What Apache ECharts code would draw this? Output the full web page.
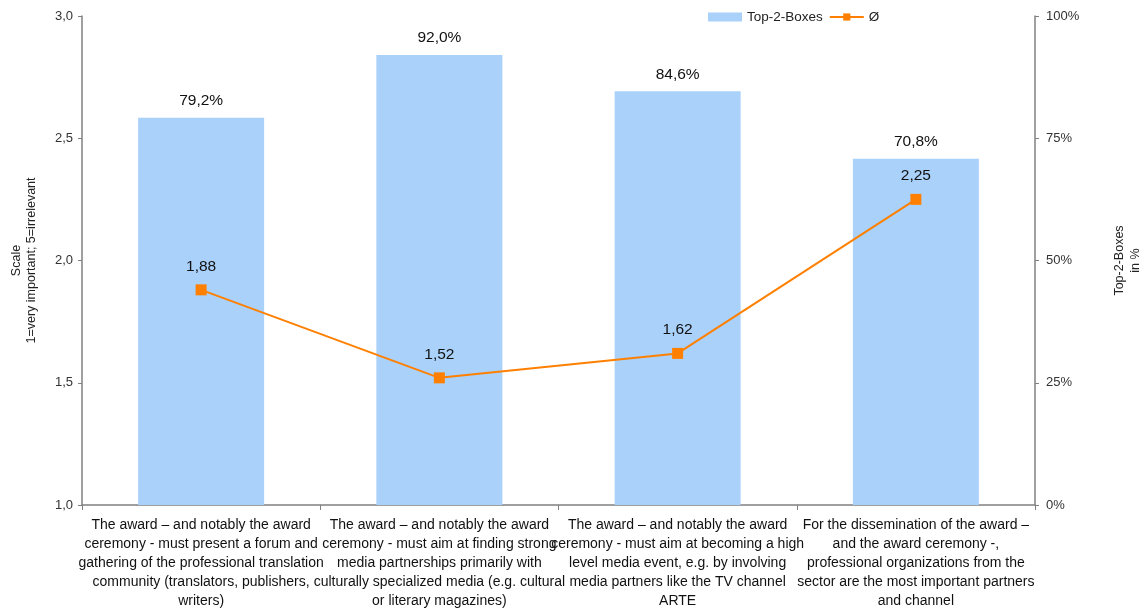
<!DOCTYPE html>
<html>
<head>
<meta charset="utf-8">
<script src="https://cdn.jsdelivr.net/npm/echarts@6/dist/echarts.min.js"></script>
<style>
  html, body { margin: 0; padding: 0; background: #fff; }
  #chart { width: 1147px; height: 610px; }
</style>
</head>
<body>
<div id="chart"></div>
<script>
// Statements about the award and its ceremony
const categories = [
  'The award \u2013 and notably the award\nceremony - must present a forum and\ngathering of the professional translation\ncommunity (translators, publishers,\nwriters)',
  'The award \u2013 and notably the award\nceremony - must aim at finding strong\nmedia partnerships primarily with\nculturally specialized media (e.g. cultural\nor literary magazines)',
  'The award \u2013 and notably the award\nceremony - must aim at becoming a high\nlevel media event, e.g. by involving\nmedia partners like the TV channel\nARTE',
  'For the dissemination of the award \u2013\nand the award ceremony -,\nprofessional organizations from the\nsector are the most important partners\nand channel'
];
// Share of the two top answer boxes, in percent
const topTwoBoxes = [79.2, 92.0, 84.6, 70.8];
// Mean rating on the 1..5 scale
const meanScore = [1.88, 1.52, 1.62, 2.25];

const FONT = 'Liberation Sans, Arial, sans-serif';
const comma = (v, d) => v.toFixed(d).replace('.', ',');

const chart = echarts.init(document.getElementById('chart'));
chart.setOption({
  animation: false,
  textStyle: { fontFamily: FONT },
  legend: {
    top: 5,
    left: 703,
    itemGap: 6,
    itemWidth: 34,
    itemHeight: 9,
    textStyle: { fontFamily: FONT, fontSize: 13.5, color: '#222' },
    data: [
      { name: 'Top-2-Boxes', icon: 'rect' },
      { name: '\u00d8' }
    ]
  },
  grid: {
    left: 82, right: 112, top: 16, bottom: 105,
    containLabel: false,
    outerBoundsMode: 'none'
  },
  xAxis: {
    type: 'category',
    data: categories,
    boundaryGap: true,
    axisLine: { lineStyle: { color: '#808080', width: 1.5 } },
    axisTick: { show: true, length: 5, lineStyle: { color: '#808080' } },
    axisLabel: {
      interval: 0,
      margin: 11,
      fontFamily: FONT,
      fontSize: 14,
      lineHeight: 19,
      color: '#111'
    }
  },
  yAxis: [
    {
      type: 'value',
      min: 1, max: 3, interval: 0.5,
      position: 'left',
      name: 'Scale\n1=very important; 5=irrelevant',
      nameLocation: 'middle',
      nameRotate: 90,
      nameGap: 43,
      nameTextStyle: { fontFamily: FONT, fontSize: 12.5, color: '#222', lineHeight: 15 },
      axisLine: { show: true, lineStyle: { color: '#808080', width: 1.5 } },
      axisTick: { show: true, length: 4, lineStyle: { color: '#808080' } },
      splitLine: { show: false },
      axisLabel: {
        margin: 9,
        fontFamily: FONT, fontSize: 13, color: '#333',
        formatter: v => comma(v, 1)
      }
    },
    {
      type: 'value',
      min: 0, max: 100, interval: 25,
      position: 'right',
      name: 'Top-2-Boxes\nin %',
      nameLocation: 'middle',
      nameRotate: 90,
      nameGap: 77,
      nameTextStyle: { fontFamily: FONT, fontSize: 12.5, color: '#222', lineHeight: 16 },
      axisLine: { show: true, lineStyle: { color: '#808080', width: 1.5 } },
      axisTick: { show: true, length: 4, lineStyle: { color: '#808080' } },
      splitLine: { show: false },
      axisLabel: {
        margin: 11,
        fontFamily: FONT, fontSize: 13, color: '#333',
        formatter: '{value}%'
      }
    }
  ],
  series: [
    {
      name: 'Top-2-Boxes',
      type: 'bar',
      yAxisIndex: 1,
      barWidth: 126,
      data: topTwoBoxes,
      itemStyle: { color: '#A9D1FA' },
      label: {
        show: true,
        position: 'top',
        distance: 9,
        fontFamily: FONT,
        fontSize: 15.5,
        color: '#111',
        formatter: p => comma(p.value, 1) + '%'
      }
    },
    {
      name: '\u00d8',
      type: 'line',
      yAxisIndex: 0,
      data: meanScore,
      symbol: 'rect',
      symbolSize: 11,
      lineStyle: { color: '#FF8000', width: 2 },
      itemStyle: { color: '#FF8000' },
      label: {
        show: true,
        position: 'top',
        distance: 10,
        fontFamily: FONT,
        fontSize: 15.5,
        color: '#111',
        formatter: p => comma(p.value, 2)
      }
    }
  ]
});
</script>
</body>
</html>
